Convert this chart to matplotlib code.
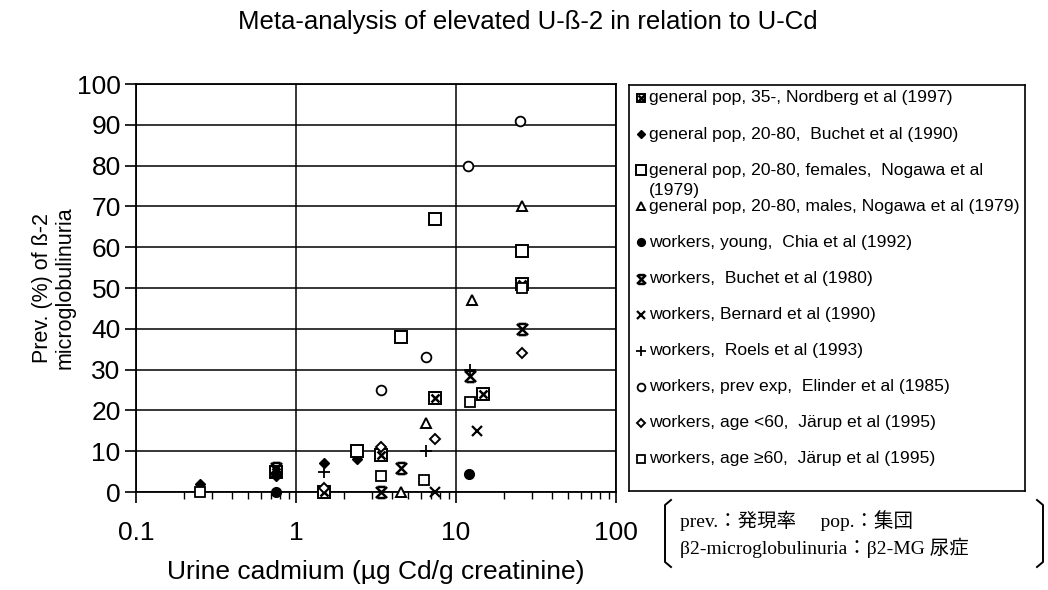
import numpy as np
import matplotlib
matplotlib.use("Agg")
import matplotlib.pyplot as plt
from matplotlib.path import Path
from matplotlib.lines import Line2D

plt.rcParams['font.family'] = ['Liberation Sans', 'DejaVu Sans']

# data: urine Cd (ug/g creat.) vs prevalence (%)
nordberg_x = [0.75, 1.5, 3.4, 7.4, 14.7, 26]
nordberg_y = [5, 0, 9, 23, 24, 51]
buchet90_x = [0.25, 0.75, 1.5, 2.4]
buchet90_y = [2, 4, 7, 8]
nogawa_f_x = [2.4, 4.5, 7.4, 26]
nogawa_f_y = [10, 38, 67, 59]
nogawa_m_x = [4.5, 6.5, 12.6, 26]
nogawa_m_y = [0, 17, 47, 70]
chia_x = [0.75, 12.0]
chia_y = [0, 4.5]
buchet80_x = [0.75, 3.4, 4.5, 12.2, 26]
buchet80_y = [6, 0, 6, 28.5, 40]
bernard_x = [0.75, 7.4, 13.5]
bernard_y = [5.5, 0, 15]
roels_x = [1.5, 6.5, 12.2]
roels_y = [5, 10, 30]
elinder_x = [3.4, 6.5, 11.9, 25]
elinder_y = [25, 33, 80, 91]
jarup_lt_x = [1.5, 3.4, 7.4, 26]
jarup_lt_y = [1, 11, 13, 34]
jarup_ge_x = [0.25, 3.4, 6.3, 12.2, 26]
jarup_ge_y = [0, 4, 3, 22, 50]

labels = [
    "general pop, 35-, Nordberg et al (1997)",
    "general pop, 20-80,  Buchet et al (1990)",
    "general pop, 20-80, females,  Nogawa et al",
    "general pop, 20-80, males, Nogawa et al (1979)",
    "workers, young,  Chia et al (1992)",
    "workers,  Buchet et al (1980)",
    "workers, Bernard et al (1990)",
    "workers,  Roels et al (1993)",
    "workers, prev exp,  Elinder et al (1985)",
    "workers, age <60,  Järup et al (1995)",
    "workers, age \u226560,  Järup et al (1995)",
]

hourglass = Path([(-1, -1), (1, 1), (-1, 1), (1, -1),
                  (-0.7, 1), (0.7, 1), (-0.7, -1), (0.7, -1)],
                 [Path.MOVETO, Path.LINETO] * 4)

series = [
    (nordberg_x, nordberg_y, 'boxx'),
    (buchet90_x, buchet90_y, 'fdiamond'),
    (nogawa_f_x, nogawa_f_y, 'bigsquare'),
    (nogawa_m_x, nogawa_m_y, 'triangle'),
    (chia_x, chia_y, 'fcircle'),
    (buchet80_x, buchet80_y, 'hourglass'),
    (bernard_x, bernard_y, 'x'),
    (roels_x, roels_y, 'plus'),
    (elinder_x, elinder_y, 'ocircle'),
    (jarup_lt_x, jarup_lt_y, 'odiamond'),
    (jarup_ge_x, jarup_ge_y, 'square'),
]


def draw(ax, x, y, kind, scale=1.0):
    kw = dict(linestyle='none', clip_on=False, zorder=3)
    if kind == 'boxx':
        ax.plot(x, y, 's', ms=8 * scale, mfc='white', mec='k', mew=1.4, **kw)
        ax.plot(x, y, 'x', ms=5.5 * scale, mec='k', mew=1.8, **kw)
    elif kind == 'fdiamond':
        ax.plot(x, y, 'D', ms=5.5 * scale, mfc='k', mec='k', mew=1, **kw)
    elif kind == 'bigsquare':
        ax.plot(x, y, 's', ms=8.5 * scale, mfc='white', mec='k', mew=1.4, **kw)
    elif kind == 'square':
        ax.plot(x, y, 's', ms=7.5 * scale, mfc='white', mec='k', mew=1.3, **kw)
    elif kind == 'triangle':
        ax.plot(x, y, '^', ms=7.5 * scale, mfc='white', mec='k', mew=1.4, **kw)
    elif kind == 'fcircle':
        ax.plot(x, y, 'o', ms=7 * scale, mfc='k', mec='k', **kw)
    elif kind == 'hourglass':
        ax.plot(x, y, marker=hourglass, ms=8 * scale, mec='k', mew=1.8, **kw)
    elif kind == 'x':
        ax.plot(x, y, 'x', ms=7 * scale, mec='k', mew=1.6, **kw)
    elif kind == 'plus':
        ax.plot(x, y, '+', ms=9 * scale, mec='k', mew=1.3, **kw)
    elif kind == 'ocircle':
        ax.plot(x, y, 'o', ms=7 * scale, mfc='white', mec='k', mew=1.3, **kw)
    elif kind == 'odiamond':
        ax.plot(x, y, 'D', ms=5.5 * scale, mfc='white', mec='k', mew=1.4, **kw)


W, H = 1048, 590
fig = plt.figure(figsize=(W / 100, H / 100), dpi=100)


def box(l, t, r, b):
    return [l / W, 1 - b / H, (r - l) / W, (b - t) / H]


ax = fig.add_axes(box(136, 84, 616, 492))
ax.set_xscale('log')
ax.set_xlim(0.1, 100)
ax.set_ylim(0, 100)

for s in ax.spines.values():
    s.set_linewidth(1.3)
ax.set_yticks(np.arange(0, 101, 10))
ax.set_xticks([0.1, 1, 10, 100])
ax.set_xticklabels(['0.1', '1', '10', '100'])
ax.xaxis.set_minor_locator(matplotlib.ticker.LogLocator(base=10, subs=np.arange(2, 10)))
ax.xaxis.set_minor_formatter(matplotlib.ticker.NullFormatter())
ax.tick_params(axis='both', which='major', direction='out', length=8, width=1.2,
               labelsize=19)
ax.tick_params(axis='x', which='major', pad=13)
ax.tick_params(axis='y', which='major', pad=3)
ax.tick_params(axis='x', which='minor', direction='out', length=5, width=1.0)
ax.grid(True, which='major', color='k', linewidth=1.1)

for xs, ys, kind in series:
    draw(ax, xs, ys, kind)

ax.set_xlabel("Urine cadmium (\u00b5g Cd/g creatinine)", fontsize=19, labelpad=11)
ax.set_ylabel("Prev. (%) of \u00df-2\nmicroglobulinuria", fontsize=15.5, labelpad=1,
              linespacing=1.1)

fig.text(528 / W, 1 - 22 / H, "Meta-analysis of elevated U-\u00df-2 in relation to U-Cd",
         ha='center', va='center', fontsize=18.5)

# legend box drawn in pixel units
lg = fig.add_axes(box(629, 85, 1025, 491))
lg.set_xlim(0, 396)
lg.set_ylim(406, 0)
lg.set_xticks([])
lg.set_yticks([])
for s in lg.spines.values():
    s.set_linewidth(1.2)
for i, (lab, (xs, ys, kind)) in enumerate(zip(labels, series)):
    yy = 13 + 36.1 * i
    draw(lg, [12], [yy], kind, scale=0.8)
    lg.text(20, yy, lab, va='center', ha='left', fontsize=12.6)
    if i == 2:
        lg.text(20, yy + 20, "(1979)", va='center', ha='left', fontsize=12.6)

# note with brackets
note_font = ['Liberation Serif', 'Noto Sans CJK JP']
fig.text(680 / W, 1 - 521 / H, "prev.\uff1a発現率\u3000 pop.\uff1a集団",
         family=note_font, fontsize=14, va='center')
fig.text(680 / W, 1 - 548 / H, "\u03b22-microglobulinuria\uff1a\u03b22-MG 尿症",
         family=note_font, fontsize=14, va='center')


def px(x, y):
    return x / W, 1 - y / H


for side in (-1, 1):
    x0 = 665 if side < 0 else 1043
    hook = 6 * -side
    pts = [px(x0 + hook, 500), px(x0, 505), px(x0, 562), px(x0 + hook, 567)]
    fig.add_artist(Line2D([p[0] for p in pts], [p[1] for p in pts],
                          transform=fig.transFigure, color='k', linewidth=1.4))

fig.savefig("out.png", dpi=100)
